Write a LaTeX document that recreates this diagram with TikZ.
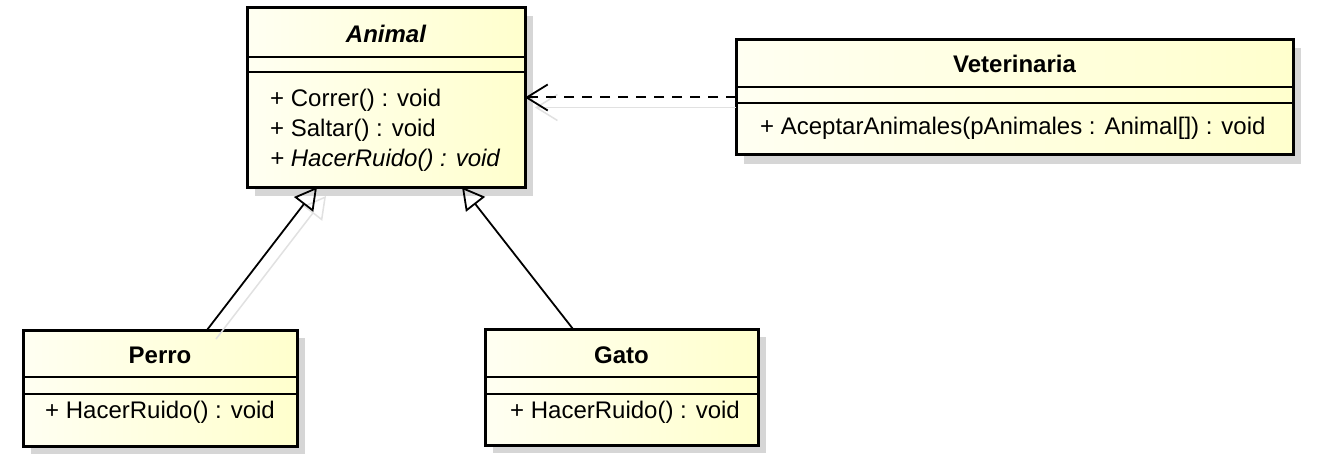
\documentclass[tikz,border=0pt]{standalone}
\usepackage{fontspec}
\setmainfont{Liberation Sans}
\usetikzlibrary{arrows.meta}
\definecolor{boxright}{RGB}{255,255,205}
\definecolor{boxleft}{RGB}{255,255,242}
\definecolor{shadowgray}{RGB}{214,214,214}
\definecolor{lineshadow}{RGB}{225,225,225}
\tikzset{
  classbox/.style={draw=black, line width=3pt, left color=boxleft, right color=boxright, inner sep=0pt, outer sep=0pt},
  shadowbox/.style={fill=shadowgray, draw=none, inner sep=0pt, outer sep=0pt},
  sepline/.style={line width=1.5pt},
  member/.style={anchor=base west, inner sep=0pt, font=\fontsize{24}{28}\selectfont},
  classtitle/.style={anchor=base, inner sep=0pt, font=\fontsize{24}{28}\selectfont\bfseries},
  gen/.style={line width=1.8pt, -{Triangle[open, length=22pt, width=24pt, line width=1.8pt]}},
  dep/.style={line width=2pt, dash pattern=on 10pt off 8pt, -{Straight Barb[length=21pt, width=26pt, line width=1.8pt]}},
  genshadow/.style={line width=1.5pt, draw=lineshadow, -{Triangle[open, length=22pt, width=24pt, line width=1.5pt]}},
  depshadow/.style={line width=1.5pt, draw=lineshadow, -{Straight Barb[length=21pt, width=26pt, line width=1.5pt]}}
}
\begin{document}
\begin{tikzpicture}[x=1pt, y=-1pt]
\useasboundingbox (0,0) rectangle (1317,468);
\fill[white] (0,0) rectangle (1317,468);

% box shadows
\node[shadowbox, minimum width=278pt, minimum height=179pt] (animalsh) at (394,106) {};
\node[shadowbox, minimum width=557pt, minimum height=115pt] (vetsh) at (1022.5,106) {};
\node[shadowbox, minimum width=274pt, minimum height=116pt] (perrosh) at (168,396) {};
\node[shadowbox, minimum width=273pt, minimum height=116pt] (gatosh) at (629.5,395) {};

% classes
\node[classbox, minimum width=278pt, minimum height=179pt] (animal) at (386,97.5) {};
\node[classbox, minimum width=557pt, minimum height=115pt] (vet) at (1014.5,97.5) {};
\node[classbox, minimum width=274pt, minimum height=116pt] (perro) at (160,388) {};
\node[classbox, minimum width=273pt, minimum height=116pt] (gato) at (621.5,387) {};

% connector shadows
\draw[genshadow] ([xshift=56pt,yshift=-9pt]perro.north) -- ([xshift=-60pt,yshift=-9pt]animal.south);
\draw[depshadow] ([yshift=-10pt]vet.west) -- ([xshift=10pt,yshift=-10pt]animal.east);

% Animal
\node[classtitle] (animaltitle) at (386,43) {\itshape Animal};
\draw[sepline] (animal.west |- 0,57) -- (animal.east |- 0,57);
\draw[sepline] (animal.west |- 0,72) -- (animal.east |- 0,72);
\node[member] (animalm1) at (270,107) {+ Correr() : void};
\node[member] (animalm2) at (270,137) {+ Saltar() : void};
\node[member] (animalm3) at (270,166) {\itshape + HacerRuido() : void};

% Veterinaria
\node[classtitle] (vettitle) at (1014.5,73) {Veterinaria};
\draw[sepline] (vet.west |- 0,87) -- (vet.east |- 0,87);
\draw[sepline] (vet.west |- 0,103) -- (vet.east |- 0,103);
\node[member] (vetm1) at (760,135) {+ AceptarAnimales(pAnimales : Animal[]) : void};

% Perro
\node[classtitle] (perrotitle) at (160,363) {Perro};
\draw[sepline] (perro.west |- 0,377) -- (perro.east |- 0,377);
\draw[sepline] (perro.west |- 0,394) -- (perro.east |- 0,394);
\node[member] (perrom1) at (45,418) {+ HacerRuido() : void};

% Gato
\node[classtitle] (gatotitle) at (621.5,363) {Gato};
\draw[sepline] (gato.west |- 0,377) -- (gato.east |- 0,377);
\draw[sepline] (gato.west |- 0,394) -- (gato.east |- 0,394);
\node[member] (gatom1) at (510,418) {+ HacerRuido() : void};

% connectors
\draw[gen] ([xshift=47pt]perro.north) -- ([xshift=-69pt]animal.south);
\draw[gen] ([xshift=-48.5pt]gato.north) -- ([xshift=76pt]animal.south);
\draw[dep] (vet.west) -- (animal.east);
\end{tikzpicture}
\end{document}
